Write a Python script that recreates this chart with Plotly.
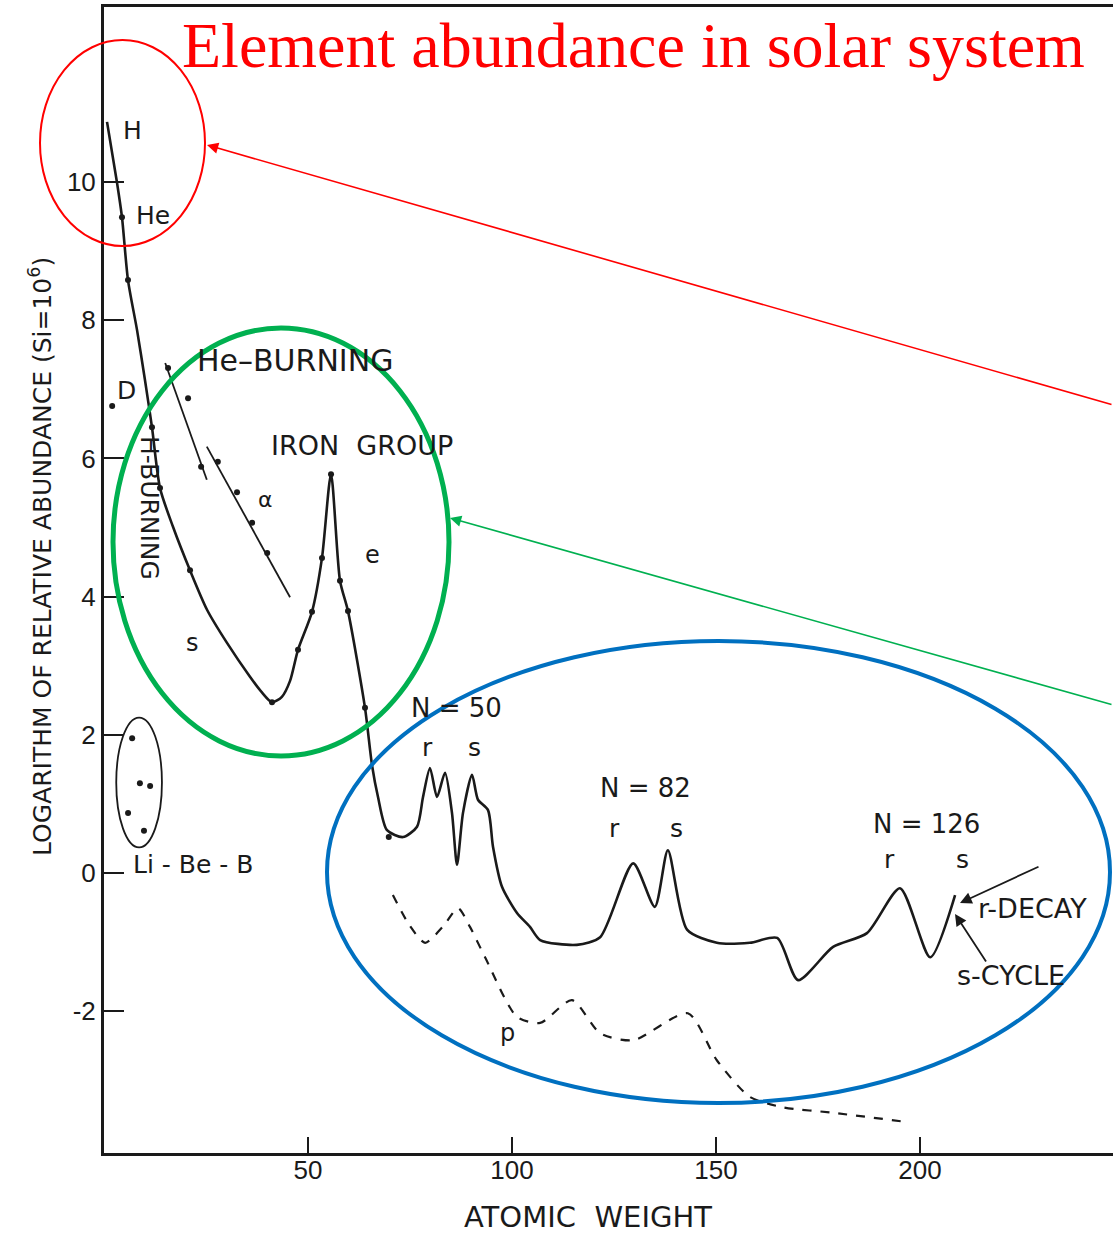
import plotly.graph_objects as go

# ---------------- data ----------------
main_x = [0.74, 3.19, 4.41, 5.88, 8.09, 10.05, 11.76, 13.73, 16.91, 21.08, 25.25, 30.15, 35.78,
          38.6, 41.18, 43.6, 45.6, 47.55, 50.98, 53.43, 55.64, 57.84, 59.80, 63.97, 65.69, 67.16,
          69.36, 73.28, 76.72, 78.19, 79.90, 81.62, 83.58, 85.29, 86.52, 87.99, 90.20, 91.67,
          94.12, 95.34, 97.55, 101.23, 104.41, 106.9, 115.9, 121.6, 129.7, 135.0, 138.2, 142.9,
          150.2, 158.3, 165.0, 170.1, 178.7, 187.0, 195.1, 202.5, 208.6]
main_y = [10.87, 9.99, 9.49, 8.58, 7.86, 7.13, 6.45, 5.57, 5.01, 4.38, 3.81, 3.33, 2.84,
          2.62, 2.47, 2.55, 2.78, 3.23, 3.78, 4.56, 5.77, 4.23, 3.79, 2.39, 1.56, 1.10,
          0.62, 0.52, 0.67, 1.10, 1.52, 1.10, 1.45, 0.87, 0.12, 0.87, 1.42, 1.06,
          0.91, 0.38, -0.20, -0.58, -0.78, -0.97, -1.04, -0.93, 0.14, -0.49, 0.33, -0.82,
          -1.01, -1.01, -0.94, -1.55, -1.07, -0.87, -0.22, -1.22, -0.32]

main_pts_x = [4.41, 5.88, 11.76, 13.73, 21.08, 41.18, 47.55, 50.98, 53.43, 55.64, 57.84, 59.80, 63.97, 69.8]
main_pts_y = [9.49, 8.58, 6.45, 5.57, 4.38, 2.47, 3.23, 3.78, 4.56, 5.77, 4.23, 3.79, 2.39, 0.52]

d_x = [2.0]
d_y = [6.76]

he_burn_x = [15.0, 25.2]
he_burn_y = [7.38, 5.69]
he_burn_pts_x = [15.7, 20.6, 23.8]
he_burn_pts_y = [7.31, 6.87, 5.88]

alpha_x = [25.2, 45.6]
alpha_y = [6.17, 3.99]
alpha_pts_x = [27.9, 32.6, 36.3, 40.0]
alpha_pts_y = [5.95, 5.51, 5.07, 4.63]

libeb_x = [6.9, 8.8, 11.3, 5.9, 9.8]
libeb_y = [1.95, 1.30, 1.26, 0.87, 0.61]

p_x = [70.8, 74.8, 78.7, 83.0, 86.8, 89.7, 93.4, 101.2, 106.9, 114.7, 121.6, 129.7, 143.1,
       150.2, 158.3, 166.4, 178.7, 196.3]
p_y = [-0.32, -0.75, -1.01, -0.78, -0.51, -0.78, -1.22, -2.08, -2.17, -1.84, -2.32, -2.42,
       -2.03, -2.71, -3.24, -3.39, -3.47, -3.60]

x_tickvals = [50, 100, 150, 200]
x_ticktext = ["50", "100", "150", "200"]
y_tickvals = [-2, 0, 2, 4, 6, 8, 10]
y_ticktext = ["-2", "0", "2", "4", "6", "8", "10"]

# ---------------- layout geometry ----------------
W, H = 1113, 1233
ML, MR, MT, MB = 104, 0, 7, 80
PW, PH = W - ML - MR, H - MT - MB


def px(xpix):
    return (xpix - ML) / PW


def py(ypix):
    return (H - MB - ypix) / PH


INK = "#1a1a1a"
FONT = "DejaVu Sans, Verdana, sans-serif"
TFONT = "Liberation Sans, Arial, sans-serif"

fig = go.Figure()

fig.add_trace(go.Scatter(x=main_x, y=main_y, mode="lines",
                         line=dict(color=INK, width=2.6, shape="spline", smoothing=0.7),
                         hoverinfo="skip", showlegend=False))
fig.add_trace(go.Scatter(x=p_x, y=p_y, mode="lines",
                         line=dict(color=INK, width=2.2, dash="dash", shape="spline", smoothing=0.7),
                         hoverinfo="skip", showlegend=False))
fig.add_trace(go.Scatter(x=he_burn_x, y=he_burn_y, mode="lines",
                         line=dict(color=INK, width=1.8), hoverinfo="skip", showlegend=False))
fig.add_trace(go.Scatter(x=alpha_x, y=alpha_y, mode="lines",
                         line=dict(color=INK, width=1.8), hoverinfo="skip", showlegend=False))
for xs, ys in [(main_pts_x, main_pts_y), (d_x, d_y), (he_burn_pts_x, he_burn_pts_y),
               (alpha_pts_x, alpha_pts_y), (libeb_x, libeb_y)]:
    fig.add_trace(go.Scatter(x=xs, y=ys, mode="markers",
                             marker=dict(color=INK, size=6), hoverinfo="skip", showlegend=False))

shapes = []
# Li-Be-B ellipse (data coords)
shapes.append(dict(type="circle", xref="x", yref="y", x0=3.0, x1=14.2, y0=0.37, y1=2.25,
                   line=dict(color=INK, width=1.8)))
# highlight ellipses (paper coords)
shapes.append(dict(type="circle", xref="paper", yref="paper", x0=px(40), x1=px(205),
                   y0=py(246), y1=py(40), line=dict(color="#ff0000", width=2)))
shapes.append(dict(type="circle", xref="paper", yref="paper", x0=px(113), x1=px(449),
                   y0=py(756), y1=py(328), line=dict(color="#00b050", width=5)))
shapes.append(dict(type="circle", xref="paper", yref="paper", x0=px(327), x1=px(1110),
                   y0=py(1103), y1=py(641), line=dict(color="#0070c0", width=4)))

annotations = []


def txt(x, y, s, size=25, angle=0, color=INK, family=FONT, ref="data"):
    xr, yr = ("x", "y") if ref == "data" else ("paper", "paper")
    annotations.append(dict(x=x, y=y, xref=xr, yref=yr, text=s, showarrow=False,
                            textangle=angle, font=dict(family=family, size=size, color=color),
                            xanchor="center", yanchor="middle"))


txt(7.1, 10.74, "H", 25)
txt(12.0, 9.51, "He", 25)
txt(5.4, 6.98, "D", 25)
txt(46.8, 7.42, "He\u2013BURNING", 30)
txt(63.2, 6.18, "IRON  GROUP", 27)
txt(39.5, 5.40, "\u03b1", 22)
txt(65.7, 4.60, "e", 24)
txt(21.6, 3.33, "s", 24)
txt(11.3, 5.28, "H-BURNING", 25, angle=90)
txt(86.5, 2.39, "N = 50", 26)
txt(79.2, 1.82, "r", 25)
txt(90.7, 1.82, "s", 25)
txt(132.8, 1.23, "N = 82", 26)
txt(125.0, 0.65, "r", 25)
txt(140.2, 0.65, "s", 25)
txt(201.7, 0.71, "N = 126", 26)
txt(192.6, 0.19, "r", 25)
txt(210.3, 0.19, "s", 25)
txt(227.5, -0.51, "r-DECAY", 27)
txt(222.3, -1.48, "s-CYCLE", 27)
txt(98.8, -2.32, "p", 24)
txt(21.8, 0.12, "Li - Be - B", 25)

# axis titles
txt(px(588), py(1217), "ATOMIC  WEIGHT", 29, ref="paper")
txt(px(40), py(557), "LOGARITHM OF RELATIVE ABUNDANCE (Si=10<sup>6</sup>)", 25, angle=-90, ref="paper")

# title
txt(px(633), py(45), "Element abundance in solar system", 64, color="#ff0000",
    family="Liberation Serif, Times New Roman, serif", ref="paper")


# arrows
def arrow(hx, hy, tx, ty, color, width, size=1.2):
    annotations.append(dict(x=px(hx), y=py(hy), xref="paper", yref="paper", text="",
                            showarrow=True, ax=tx - hx, ay=ty - hy, axref="pixel", ayref="pixel",
                            arrowhead=2, arrowsize=size, arrowwidth=width, arrowcolor=color,
                            standoff=0, startstandoff=0))


arrow(207, 145, 1113, 405, "#ff0000", 1.6, 1.4)
arrow(450, 518, 1113, 705, "#00b050", 1.6, 1.4)
arrow(960, 903, 1040, 866, INK, 1.8, 1.3)
arrow(955, 914, 987, 963, INK, 1.8, 1.3)

fig.update_layout(
    width=W, height=H,
    margin=dict(l=ML, r=MR, t=MT, b=MB),
    paper_bgcolor="white", plot_bgcolor="white",
    shapes=shapes, annotations=annotations,
    showlegend=False,
    xaxis=dict(range=[0, PW / 4.08], showgrid=False, zeroline=False,
               showline=True, linecolor=INK, linewidth=3, mirror=True,
               ticks="inside", ticklen=16, tickwidth=2, tickcolor=INK,
               tickvals=x_tickvals, ticktext=x_ticktext, ticklabelstandoff=-8,
               tickfont=dict(family=TFONT, size=26, color=INK)),
    yaxis=dict(range=[(873 - (H - MB)) / 69.1, (873 - MT) / 69.1], showgrid=False, zeroline=False,
               showline=True, linecolor=INK, linewidth=3,
               ticks="inside", ticklen=20, tickwidth=2, tickcolor=INK,
               tickvals=y_tickvals, ticktext=y_ticktext,
               tickfont=dict(family=TFONT, size=26, color=INK)),
)

fig.write_html("out.html")
